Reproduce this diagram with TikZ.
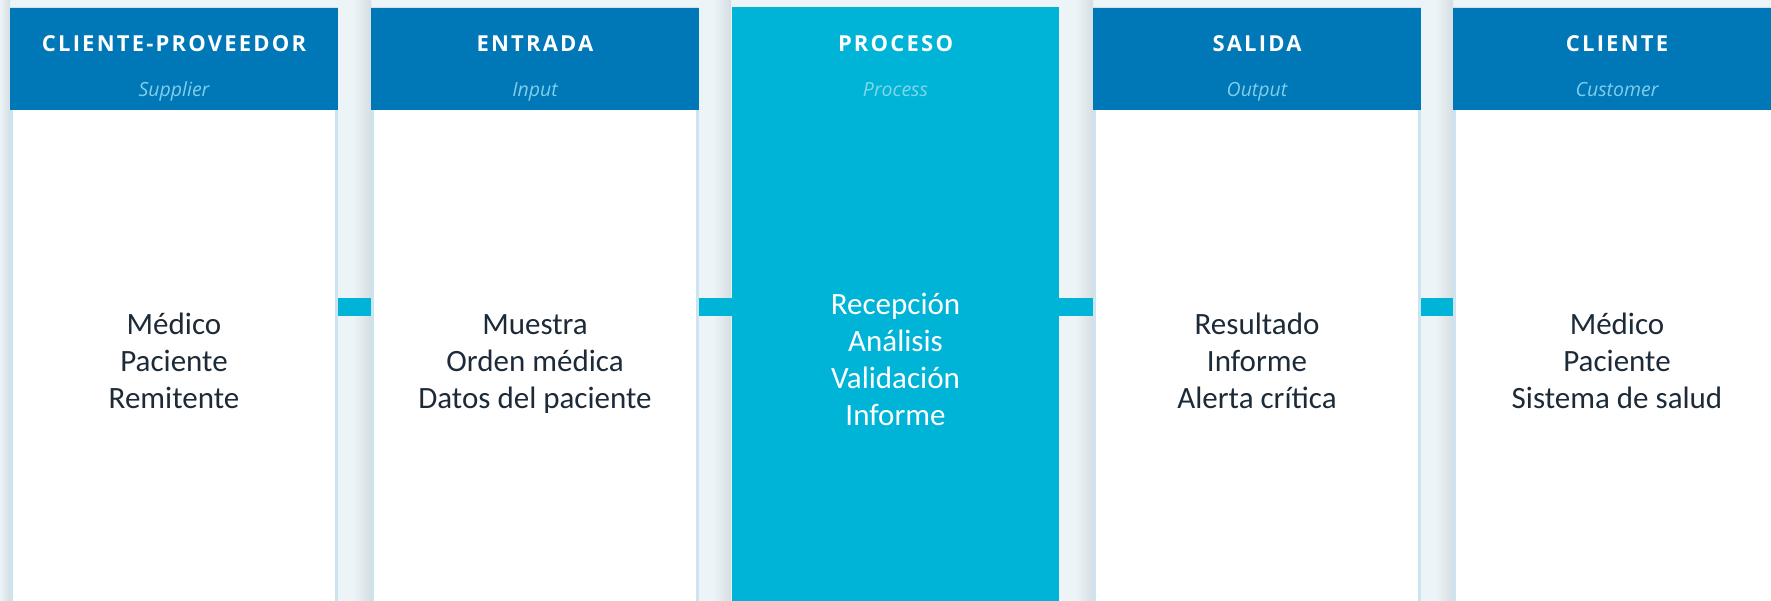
\documentclass[tikz,border=0pt]{standalone}
\usepackage{fontspec}
\setmainfont{Carlito}
\newfontfamily\headfont[LetterSpace=10]{Open Sans}
\newfontfamily\subfont{Open Sans}

\newlength{\du}
\setlength{\du}{1pt}

\tikzset{
  colbody/.style={rectangle, fill=white, draw=bordblue, line width=2.5\du, minimum width=325\du, minimum height=598\du, inner sep=0pt},
  colhead/.style={rectangle, fill=headblue, minimum width=328\du, minimum height=102\du, inner sep=0pt},
  coltitle/.style={anchor=base, text=white, font=\headfont\bfseries\fontsize{22}{26}\selectfont},
  colsub/.style={anchor=base, text=subblue, font=\subfont\itshape\fontsize{19.5}{24}\selectfont},
  items/.style={anchor=base, align=center, text=itemtext, font=\fontsize{31}{37}\selectfont},
  linkbar/.style={draw=barcyan, line width=18\du},
}

\begin{document}
\begin{tikzpicture}
\pgftransformxscale{1.000000}
\pgftransformyscale{-1.000000}
\definecolor{bgc}{RGB}{237,244,247}
\definecolor{shadowc}{RGB}{213,222,227}
\definecolor{bordblue}{RGB}{204,227,240}
\definecolor{headblue}{RGB}{0,119,182}
\definecolor{subblue}{RGB}{128,206,236}
\definecolor{procsub}{RGB}{130,214,234}
\definecolor{barcyan}{RGB}{0,180,216}
\definecolor{itemtext}{RGB}{29,43,57}

\useasboundingbox (0\du,0\du) rectangle (1771\du,601\du);
\fill[bgc] (0\du,0\du) rectangle (1771\du,601\du);

% shadows in the gaps
\shade[left color=bgc, right color=shadowc] (0\du,0\du) rectangle (10\du,601\du);
\shade[left color=bgc, right color=shadowc] (353\du,0\du) rectangle (371\du,601\du);
\shade[left color=bgc, right color=shadowc] (713\du,0\du) rectangle (731\du,601\du);
\shade[left color=bgc, right color=shadowc] (1075\du,0\du) rectangle (1093\du,601\du);
\shade[left color=bgc, right color=shadowc] (1435\du,0\du) rectangle (1453\du,601\du);

\node[colbody] (col1) at (174\du,307\du) {};
\node[colhead] (hd1) at (174\du,59\du) {};
\node[coltitle] (t1) at (174\du,52\du) {CLIENTE-PROVEEDOR};
\node[colsub] (s1) at (174\du,97\du) {Supplier};
\node[items] (i1) at (174\du,408\du) {Médico\\Paciente\\Remitente};

\node[colbody] (col2) at (535\du,307\du) {};
\node[colhead] (hd2) at (535\du,59\du) {};
\node[coltitle] (t2) at (535\du,52\du) {ENTRADA};
\node[colsub] (s2) at (535\du,97\du) {Input};
\node[items] (i2) at (535\du,408\du) {Muestra\\Orden médica\\Datos del paciente};

\node[colbody, fill=barcyan, draw=barcyan] (col3) at (895.5\du,307\du) {};
\node[coltitle] (t3) at (895.5\du,52\du) {PROCESO};
\node[colsub, text=procsub] (s3) at (895.5\du,97\du) {Process};
\node[items, text=white] (i3) at (895.5\du,425\du) {Recepción\\Análisis\\Validación\\Informe};

\node[colbody] (col4) at (1257\du,307\du) {};
\node[colhead] (hd4) at (1257\du,59\du) {};
\node[coltitle] (t4) at (1257\du,52\du) {SALIDA};
\node[colsub] (s4) at (1257\du,97\du) {Output};
\node[items] (i4) at (1257\du,408\du) {Resultado\\Informe\\Alerta crítica};

\node[colbody] (col5) at (1617\du,307\du) {};
\node[colhead] (hd5) at (1617\du,59\du) {};
\node[coltitle] (t5) at (1617\du,52\du) {CLIENTE};
\node[colsub] (s5) at (1617\du,97\du) {Customer};
\node[items] (i5) at (1617\du,408\du) {Médico\\Paciente\\Sistema de salud};

\draw[linkbar] (col1.east)--(col2.west);
\draw[linkbar] (col2.east)--(col3.west);
\draw[linkbar] (col3.east)--(col4.west);
\draw[linkbar] (col4.east)--(col5.west);

\end{tikzpicture}
\end{document}
